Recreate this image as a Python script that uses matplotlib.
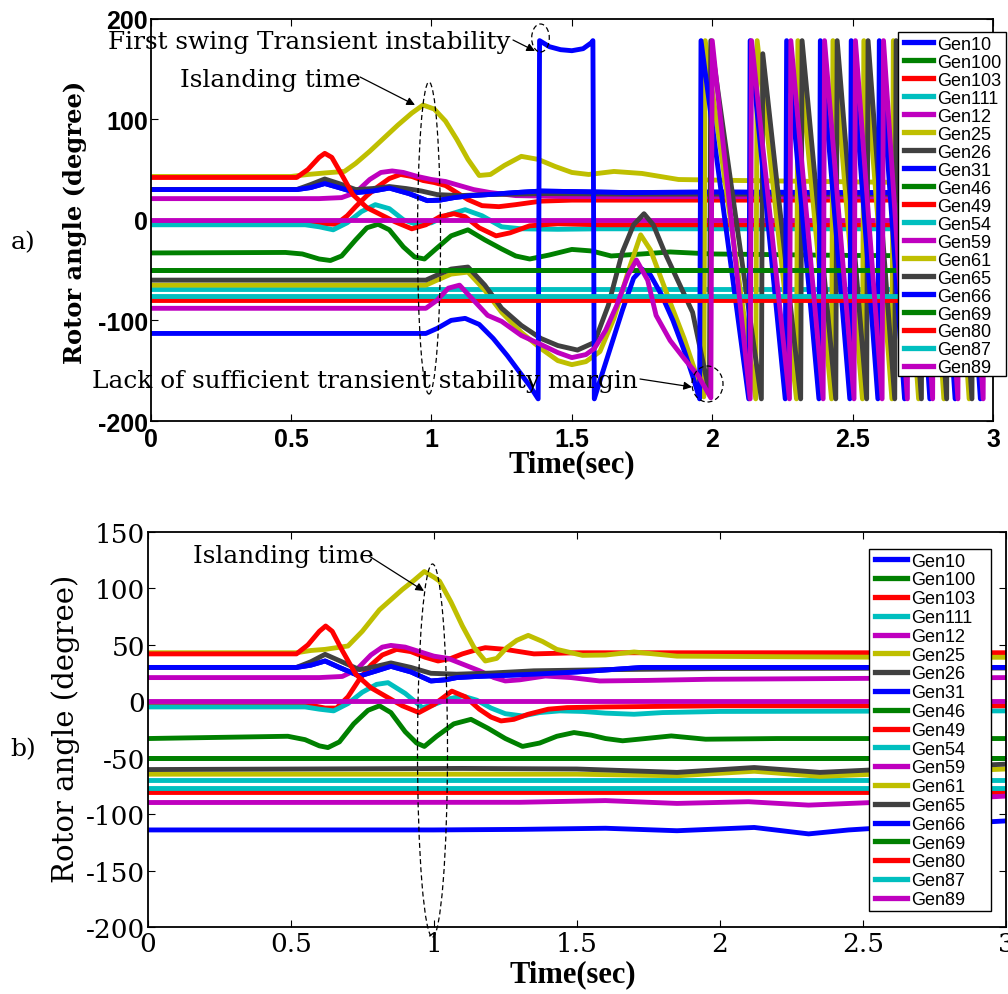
import matplotlib
matplotlib.use("Agg")
import matplotlib.pyplot as plt
from matplotlib.patches import Ellipse, Rectangle, FancyArrowPatch

# ---------------- data ----------------
gen_names = ["Gen10", "Gen100", "Gen103", "Gen111", "Gen12", "Gen25", "Gen26",
             "Gen31", "Gen46", "Gen49", "Gen54", "Gen59", "Gen61", "Gen65",
             "Gen66", "Gen69", "Gen80", "Gen87", "Gen89"]
gen_colors = ["#0000ff", "#008000", "#ff0000", "#00bfbf", "#bf00bf", "#bfbf00", "#404040",
              "#0000ff", "#008000", "#ff0000", "#00bfbf", "#bf00bf", "#bfbf00", "#404040",
              "#0000ff", "#008000", "#ff0000", "#00bfbf", "#bf00bf"]

x_ticks = [0, 0.5, 1, 1.5, 2, 2.5, 3]
x_tick_labels = ["0", "0.5", "1", "1.5", "2", "2.5", "3"]
a_y_ticks = [-200, -100, 0, 100, 200]
b_y_ticks = [-200, -150, -100, -50, 0, 50, 100, 150]

t_flat = [0.0, 3.0]

# ---- panel a (unstable case) ----
a_gen31_t = [0, 0.52, 0.57, 0.62, 0.67, 0.73, 0.79, 0.85, 0.92, 0.985, 1.03, 1.08, 1.14, 1.2, 1.3, 1.39, 1.5, 1.7, 2.0, 2.5, 3.0]
a_gen31_v = [30, 30, 32, 36, 32, 27, 28.5, 31.5, 26, 19, 19.5, 22, 24, 25, 27, 28.5, 28, 27, 27.5, 27, 27]
a_gen10_t = a_gen31_t
a_gen10_v = a_gen31_v
a_gen26_t = [0, 0.52, 0.57, 0.62, 0.67, 0.73, 0.79, 0.85, 0.91, 0.965, 1.02, 1.1, 1.2, 1.4, 1.7, 2.0, 3.0]
a_gen26_v = [30, 30, 35, 40.5, 36, 30, 31, 33, 31, 28.5, 25, 24, 25, 26, 25.5, 25.5, 25.5]
a_gen25_t = [0, 0.5, 0.56, 0.62, 0.69, 0.73, 0.78, 0.83, 0.88, 0.93, 0.97, 1.01, 1.05, 1.09, 1.13, 1.17, 1.21, 1.26, 1.32, 1.38, 1.44, 1.5, 1.56, 1.65, 1.75, 1.88, 2.1, 2.4, 2.7, 3.0]
a_gen25_v = [43, 43, 45, 46.5, 48, 56, 68, 81, 94, 106, 114, 110, 98, 80, 60, 44, 45, 54, 63, 60, 53, 47, 45, 48, 46, 40, 39, 38, 37, 36.5]
a_gen49_t = [0, 0.52, 0.56, 0.6, 0.62, 0.645, 0.68, 0.72, 0.77, 0.82, 0.87, 0.93, 0.98, 1.03, 1.08, 1.12, 1.17, 1.23, 1.28, 1.35, 1.45, 1.6, 2.0, 3.0]
a_gen49_v = [42, 42, 50, 62, 66, 62, 45, 25, 12, 5, -2, -9, -5, 3, 6, 3, -8, -16, -13, -6, -4, -5, -5, -5]
a_gen103_t = [0, 0.58, 0.62, 0.66, 0.7, 0.73, 0.77, 0.81, 0.85, 0.89, 0.93, 0.97, 1.01, 1.05, 1.09, 1.13, 1.18, 1.24, 1.3, 1.39, 1.5, 2.0, 3.0]
a_gen103_v = [-3, -3, -4, -4.5, 4, 13, 24, 33, 41, 45, 43, 39, 37, 34, 27, 20, 14, 13, 15, 18.5, 19.5, 19.5, 19.5]
a_gen111_t = [0, 0.55, 0.6, 0.65, 0.7, 0.75, 0.8, 0.85, 0.9, 0.95, 1.0, 1.06, 1.12, 1.18, 1.25, 1.32, 1.45, 1.6, 2.0, 3.0]
a_gen111_v = [-5, -5, -7, -10, -3, 8, 15, 11, 0, -5, -3, 5, 10, 4, -7, -9, -9.5, -9, -9, -9]
a_gen12_t = [0, 0.6, 0.68, 0.73, 0.78, 0.82, 0.86, 0.9, 0.95, 1.0, 1.05, 1.1, 1.15, 1.21, 1.3, 1.5, 2.0, 3.0]
a_gen12_v = [21, 21, 22, 27, 40, 47, 48.5, 47, 43, 40, 38, 34, 30, 27, 24, 23, 23, 23]
a_gen59_v = [0, 0]
a_gen46_t = [0, 0.48, 0.54, 0.6, 0.64, 0.68, 0.73, 0.77, 0.81, 0.85, 0.9, 0.94, 0.975, 1.02, 1.07, 1.13, 1.19, 1.25, 1.3, 1.35, 1.42, 1.5, 1.57, 1.64, 1.75, 1.85, 2.0, 2.5, 3.0]
a_gen46_v = [-33, -32.5, -34, -39, -40.5, -36, -20, -8, -4.5, -10, -27, -37, -39, -28, -16, -10, -20, -29, -36, -39, -35, -29.5, -31, -36, -34, -32, -34, -35.5, -36]
a_gen100_v = [-49.5, -49.5]
a_gen69_v = [-49.5, -49.5]
a_gen54_v = [-69, -69]
a_gen87_v = [-76, -76]
a_gen80_v = [-79.5, -79.5]
a_gen65_t = [0, 0.98, 1.02, 1.07, 1.13, 1.19, 1.25, 1.32, 1.39, 1.45, 1.52, 1.58, 1.63, 1.68, 1.72, 1.757, 1.79, 1.83, 1.88, 1.93, 1.99,
             1.995, 2.175, 2.18, 2.315, 2.32, 2.44, 2.445, 2.55, 2.555, 2.65, 2.655, 2.745, 2.75, 2.835, 2.84, 2.925, 2.93, 3.0]
a_gen65_v = [-60, -60, -55, -49, -47, -65, -88, -105, -118, -125, -129.5, -122, -85, -32, -5, 6, -5, -32, -62, -92, -172,
             178, -178, 165, -178, 178, -178, 178, -178, 178, -178, 178, -178, 178, -178, 178, -178, 178, -100]
a_gen61_t = [0, 0.98, 1.02, 1.07, 1.13, 1.19, 1.25, 1.32, 1.39, 1.45, 1.5, 1.55, 1.6, 1.65, 1.7, 1.745, 1.78, 1.85, 1.9, 1.97,
             1.975, 2.155, 2.16, 2.3, 2.305, 2.425, 2.43, 2.535, 2.54, 2.64, 2.645, 2.735, 2.74, 2.825, 2.83, 2.915, 2.92, 3.0]
a_gen61_v = [-65, -65, -60, -54, -52, -70, -92, -112, -128, -140, -144, -141, -131, -98, -52, -15, -30, -82, -118, -176,
             178, -178, 178, -178, 178, -178, 178, -178, 178, -178, 178, -178, 178, -178, 178, -178, 178, -140]
a_gen89_t = [0, 0.98, 1.02, 1.06, 1.1, 1.15, 1.2, 1.25, 1.32, 1.39, 1.45, 1.5, 1.55, 1.58, 1.62, 1.66, 1.7, 1.73, 1.77, 1.8, 1.85, 1.9, 1.95, 1.995,
             2.0, 2.135, 2.14, 2.275, 2.28, 2.395, 2.4, 2.505, 2.51, 2.605, 2.61, 2.695, 2.7, 2.785, 2.79, 2.875, 2.88, 2.965, 2.97, 3.0]
a_gen89_v = [-88, -88, -80, -68, -65, -80, -95, -101, -115, -124, -132, -137, -134, -128, -110, -85, -55, -40, -60, -95, -120, -138, -155, -177,
             178, -178, 178, -178, 178, -178, 178, -178, 178, -178, 178, -178, 178, -178, 178, -178, 178, -178, 178, 60]
a_gen66_t = [0, 0.98, 1.02, 1.07, 1.12, 1.17, 1.22, 1.27, 1.31, 1.35, 1.38, 1.385, 1.42, 1.46, 1.5, 1.54, 1.57, 1.575, 1.58, 1.6, 1.64, 1.68,
             1.72, 1.75, 1.78, 1.82, 1.86, 1.9, 1.93, 1.955, 1.96, 2.13, 2.135, 2.26, 2.265, 2.38, 2.385, 2.49, 2.495, 2.59, 2.595,
             2.685, 2.69, 2.775, 2.78, 2.865, 2.87, 2.955, 2.96, 3.0]
a_gen66_v = [-113, -113, -108, -100, -98, -104, -118, -135, -150, -165, -178, 178, 172, 169, 168, 170, 176, 178, -178, -160, -125, -90,
             -58, -49, -55, -75, -100, -130, -155, -178, 178, -178, 178, -178, 178, -178, 178, -178, 178, -178, 178,
             -178, 178, -178, 178, -178, 178, -178, 178, 20]

# ---- panel b (stable case) ----
b_gen31_t = [0, 0.52, 0.57, 0.62, 0.67, 0.74, 0.8, 0.85, 0.92, 0.99, 1.04, 1.08, 1.15, 1.25, 1.35, 1.5, 1.73, 2.0, 2.5, 3.0]
b_gen31_v = [30, 30, 32, 35.7, 30, 22.4, 27, 31, 26, 18, 19, 21, 22, 23, 24, 26, 30, 30, 30, 30]
b_gen10_t = b_gen31_t
b_gen10_v = b_gen31_v
b_gen26_t = [0, 0.52, 0.57, 0.62, 0.67, 0.74, 0.8, 0.85, 0.92, 0.99, 1.08, 1.2, 1.35, 1.6, 2.0, 3.0]
b_gen26_v = [30, 30, 35, 41.6, 36, 28, 31, 34, 30, 24.8, 24, 25, 27, 28, 29, 29.5]
b_gen25_t = [0, 0.52, 0.57, 0.62, 0.7, 0.75, 0.81, 0.85, 0.89, 0.93, 0.967, 1.0, 1.02, 1.06, 1.1, 1.14, 1.18, 1.22, 1.255, 1.29, 1.33, 1.38, 1.43, 1.52, 1.6, 1.7, 1.85, 2.2, 2.6, 3.0]
b_gen25_v = [43, 43, 45, 46, 49, 62, 81, 90, 99, 107, 115, 110, 106.5, 88, 66.7, 48, 35.7, 38, 47.5, 54, 58.4, 53, 46, 40.7, 41, 43.7, 40, 39.5, 39, 39]
b_gen49_t = [0, 0.52, 0.56, 0.6, 0.622, 0.645, 0.68, 0.727, 0.78, 0.83, 0.89, 0.948, 1.0, 1.063, 1.11, 1.159, 1.2, 1.235, 1.28, 1.33, 1.4, 1.466, 1.6, 2.0, 3.0]
b_gen49_v = [42, 42, 50, 62, 66.7, 62, 45, 24, 12, 4.7, -4, -10, -3, 9, 4, -7, -14, -17.4, -16, -11.5, -7, -5.6, -5, -4, -4]
b_gen103_t = [0, 0.58, 0.62, 0.66, 0.7, 0.74, 0.78, 0.82, 0.87, 0.92, 0.97, 1.015, 1.06, 1.1, 1.14, 1.18, 1.25, 1.35, 1.5, 2.0, 3.0]
b_gen103_v = [-4, -4, -6, -6, 4, 19.5, 32, 41, 46, 44, 39, 35.7, 38, 42, 45, 47.5, 46, 42, 43, 43, 43]
b_gen111_t = [0, 0.55, 0.6, 0.65, 0.7, 0.75, 0.8, 0.84, 0.9, 0.96, 1.0, 1.05, 1.1, 1.15, 1.2, 1.25, 1.31, 1.37, 1.44, 1.52, 1.6, 1.7, 1.8, 2.0, 3.0]
b_gen111_v = [-5, -5, -7, -8.5, -2, 8, 15, 16.5, 7, -5.6, -3, 2, 4.7, 1, -6, -11, -13, -10, -8.5, -9, -10.5, -11.5, -10, -9, -8.5]
b_gen12_t = [0, 0.6, 0.68, 0.73, 0.78, 0.82, 0.85, 0.9, 0.95, 1.0, 1.05, 1.1, 1.16, 1.21, 1.25, 1.3, 1.39, 1.48, 1.58, 1.75, 1.96, 2.3, 3.0]
b_gen12_v = [21, 21, 22, 28, 41, 48, 49.5, 48, 44, 40, 38, 33, 27, 21, 18, 19, 22.4, 21, 18, 18.5, 19.5, 20, 21]
b_gen59_v = [0, 0]
b_gen46_t = [0, 0.49, 0.55, 0.6, 0.63, 0.67, 0.72, 0.77, 0.81, 0.85, 0.9, 0.94, 0.967, 1.01, 1.07, 1.13, 1.19, 1.25, 1.31, 1.37, 1.43, 1.49, 1.55, 1.6, 1.66, 1.74, 1.83, 1.95, 2.2, 3.0]
b_gen46_v = [-33, -31, -34, -39.5, -41, -36, -20, -8, -4, -10, -27, -37, -40, -31, -20, -16, -24, -33, -40, -37, -31, -27.7, -30, -33, -35, -33, -30.7, -33.6, -33, -33]
b_gen100_v = [-50.4, -50.4]
b_gen69_v = [-50.4, -50.4]
b_gen54_v = [-70, -70]
b_gen87_v = [-77, -77]
b_gen80_v = [-80, -80]
b_gen65_t = [0, 1.1, 1.5, 1.85, 2.12, 2.35, 2.6, 3.0]
b_gen65_v = [-60.5, -59.5, -60, -63, -58.7, -63, -60, -55.7]
b_gen61_t = [0, 1.5, 1.85, 2.12, 2.35, 2.6, 3.0]
b_gen61_v = [-64.6, -64.6, -66, -62, -66.5, -64, -60]
b_gen66_t = [0, 1.0, 1.3, 1.6, 1.85, 2.12, 2.31, 2.45, 2.7, 3.0]
b_gen66_v = [-114, -114, -113.5, -112.5, -114.7, -111.8, -117.5, -114, -110, -106]
b_gen89_t = [0, 1.3, 1.6, 1.85, 2.1, 2.31, 2.6, 3.0]
b_gen89_v = [-89.7, -89.5, -88, -90.5, -89, -92, -89, -84]

panel_a = [(a_gen10_t, a_gen10_v), (t_flat, a_gen100_v), (a_gen103_t, a_gen103_v), (a_gen111_t, a_gen111_v),
           (a_gen12_t, a_gen12_v), (a_gen25_t, a_gen25_v), (a_gen26_t, a_gen26_v), (a_gen31_t, a_gen31_v),
           (a_gen46_t, a_gen46_v), (a_gen49_t, a_gen49_v), (t_flat, a_gen54_v), (t_flat, a_gen59_v),
           (a_gen61_t, a_gen61_v), (a_gen65_t, a_gen65_v), (a_gen66_t, a_gen66_v), (t_flat, a_gen69_v),
           (t_flat, a_gen80_v), (t_flat, a_gen87_v), (a_gen89_t, a_gen89_v)]
panel_b = [(b_gen10_t, b_gen10_v), (t_flat, b_gen100_v), (b_gen103_t, b_gen103_v), (b_gen111_t, b_gen111_v),
           (b_gen12_t, b_gen12_v), (b_gen25_t, b_gen25_v), (b_gen26_t, b_gen26_v), (b_gen31_t, b_gen31_v),
           (b_gen46_t, b_gen46_v), (b_gen49_t, b_gen49_v), (t_flat, b_gen54_v), (t_flat, b_gen59_v),
           (b_gen61_t, b_gen61_v), (b_gen65_t, b_gen65_v), (b_gen66_t, b_gen66_v), (t_flat, b_gen69_v),
           (t_flat, b_gen80_v), (t_flat, b_gen87_v), (b_gen89_t, b_gen89_v)]

# ---------------- figure ----------------
W, H = 1008, 995
fig = plt.figure(figsize=(W / 100, H / 100), dpi=100)


def fx(x):
    return x / W


def fy(y):
    return 1 - y / H


ax1 = fig.add_axes([fx(150.7), fy(422), fx(993) - fx(150.7), fy(19.5) - fy(422)])
ax2 = fig.add_axes([fx(147.7), fy(928), fx(1006) - fx(147.7), fy(533) - fy(928)])

LW = 3.5
for ax, panel in ((ax1, panel_a), (ax2, panel_b)):
    for (t, v), name, col in zip(panel, gen_names, gen_colors):
        ax.plot(t, v, color=col, lw=LW, label=name, solid_joinstyle="round")
    ax.set_xlim(0, 3)
    ax.set_xticks(x_ticks)
    ax.tick_params(direction="in", top=True, right=True, length=5, width=0.8)
    for s in ax.spines.values():
        s.set_linewidth(1.3)

ax1.set_ylim(-200, 200)
ax1.set_yticks(a_y_ticks)
ax1.set_yticklabels([str(v) for v in a_y_ticks], fontfamily="Liberation Sans",
                    fontweight="bold", fontsize=18)
ax1.set_xticklabels(x_tick_labels, fontfamily="Liberation Sans", fontweight="bold", fontsize=18)
ax1.tick_params(axis="y", pad=2)
ax1.tick_params(axis="x", pad=4)

ax2.set_ylim(-200, 150)
ax2.set_yticks(b_y_ticks)
ax2.set_yticklabels([str(v) for v in b_y_ticks], fontfamily="DejaVu Serif", fontsize=19)
ax2.set_xticklabels(x_tick_labels, fontfamily="DejaVu Serif", fontsize=19)
ax2.tick_params(axis="y", pad=2)
ax2.tick_params(axis="x", pad=3)

# labels
fig.text(fx(572), fy(465), "Time(sec)", ha="center", va="center",
         fontfamily="Liberation Serif", fontweight="bold", fontsize=22)
fig.text(fx(573), fy(975), "Time(sec)", ha="center", va="center",
         fontfamily="Liberation Serif", fontweight="bold", fontsize=22)
fig.text(fx(75), fy(222), "Rotor angle (degree)", rotation=90, ha="center", va="center",
         fontfamily="DejaVu Serif", fontweight="bold", fontsize=17.4)
fig.text(fx(66), fy(729), "Rotor angle (degree)", rotation=90, ha="center", va="center",
         fontfamily="DejaVu Serif", fontsize=21)
fig.text(fx(23), fy(243), "a)", ha="center", va="center", fontfamily="DejaVu Serif", fontsize=18)
fig.text(fx(23), fy(750), "b)", ha="center", va="center", fontfamily="DejaVu Serif", fontsize=18)

# legends (frame drawn as a rectangle so its size matches the original)
LEG_FS = 13
leg_common = dict(prop={"family": "Liberation Sans", "size": LEG_FS}, frameon=False,
                  borderaxespad=0, handletextpad=0.22, borderpad=0.2,
                  bbox_transform=fig.transFigure, loc="upper left")
leg1 = ax1.legend(bbox_to_anchor=(fx(900), fy(33)), handlelength=1.62, labelspacing=0.055, **leg_common)
leg2 = ax2.legend(bbox_to_anchor=(fx(871), fy(550)), handlelength=1.8, labelspacing=0.1, **leg_common)

for ax, leg, (x0, y0, x1, y1) in ((ax1, leg1, (898, 33, 1006, 377)), (ax2, leg2, (869, 550, 991, 912))):
    box = Rectangle((fx(x0), fy(y1)), fx(x1) - fx(x0), fy(y0) - fy(y1), transform=fig.transFigure,
                    facecolor="white", edgecolor="black", lw=1.0, clip_on=False, zorder=5)
    ax.add_patch(box)
    leg.set_zorder(6)
    for ln in leg.get_lines():
        ln.set_linewidth(3.8)
        ln.set_clip_path(box)
    for tx in leg.get_texts():
        tx.set_clip_path(box)

# annotations
ann_font = dict(fontfamily="DejaVu Serif", fontsize=17.8, color="black")
arrow_kw = dict(arrowstyle="-|>", lw=0.9, color="black", mutation_scale=12, shrinkA=0, shrinkB=0)

fig.text(fx(510), fy(43), "First swing Transient instability", ha="right", va="center", **ann_font)
fig.text(fx(180), fy(81), "Islanding time", ha="left", va="center", **ann_font)
fig.text(fx(638), fy(382), "Lack of sufficient transient stability margin", ha="right", va="center", **ann_font)
fig.text(fx(193), fy(557), "Islanding time", ha="left", va="center", **ann_font)

for (x0, y0, x1, y1) in [(513, 41, 535, 52), (360, 78, 415, 106), (640, 380, 692, 388), (369, 557, 424, 592)]:
    fig.add_artist(FancyArrowPatch((fx(x0), fy(y0)), (fx(x1), fy(y1)),
                                   transform=fig.transFigure, **arrow_kw))

for (cx, cy, w, h) in [(540.5, 39, 17.6, 28), (429, 239, 23, 312), (707.5, 385, 31, 36), (432.5, 751.5, 30, 373)]:
    fig.add_artist(Ellipse((fx(cx), fy(cy)), w / W, h / H, transform=fig.transFigure,
                           fill=False, edgecolor="black", lw=0.9, ls=(0, (4, 2.5))))

fig.savefig("out.png", dpi=100)
